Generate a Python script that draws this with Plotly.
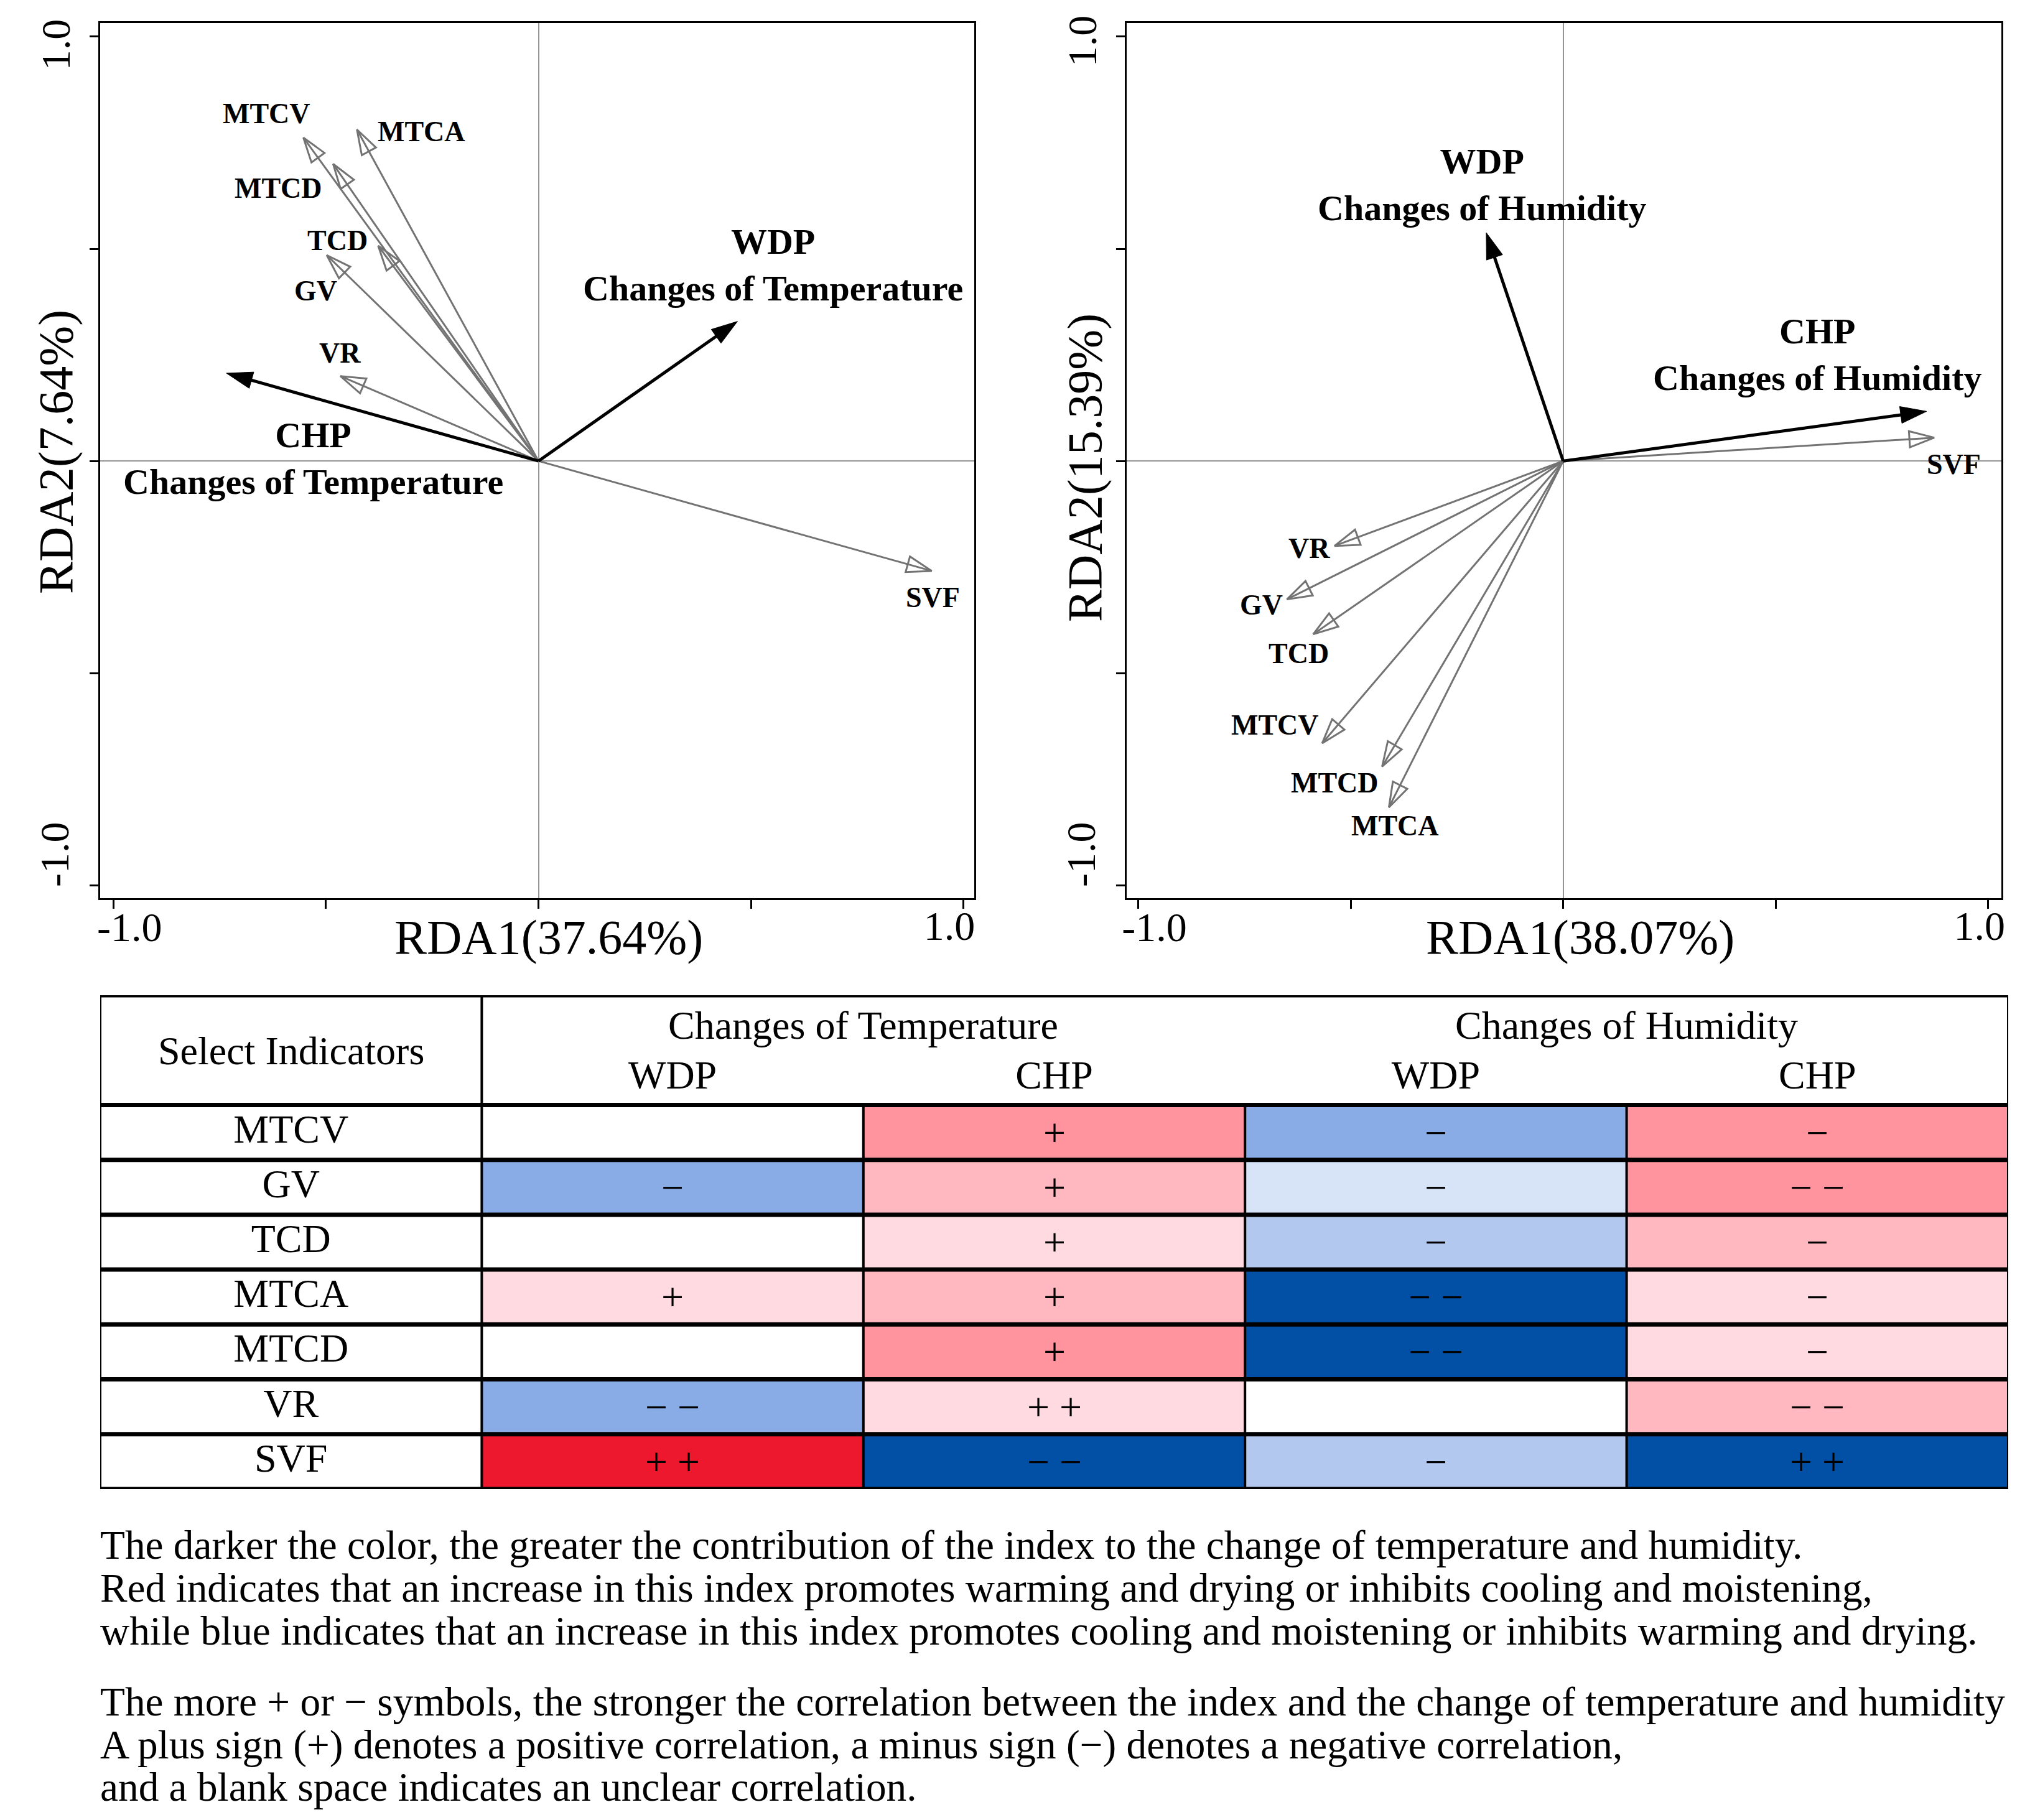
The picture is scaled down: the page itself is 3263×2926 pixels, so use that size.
import plotly.graph_objects as go

# ---------------- data ----------------
variables = ["MTCV", "MTCA", "MTCD", "TCD", "GV", "VR", "SVF"]
# RDA loadings, temperature panel
temp_x = [-0.553, -0.427, -0.483, -0.377, -0.498, -0.466, 0.925]
temp_y = [0.762, 0.781, 0.700, 0.507, 0.485, 0.200, -0.259]
responses = ["WDP", "CHP"]
temp_resp_x = [0.468, -0.734]
temp_resp_y = [0.329, 0.207]
# RDA loadings, humidity panel
hum_x = [-0.567, -0.410, -0.426, -0.588, -0.650, -0.538, 0.873]
hum_y = [-0.665, -0.816, -0.720, -0.408, -0.326, -0.200, 0.055]
hum_resp_x = [-0.181, 0.855]
hum_resp_y = [0.538, 0.117]

axis_titles_temp = ["RDA1(37.64%)", "RDA2(7.64%)"]
axis_titles_hum = ["RDA1(38.07%)", "RDA2(15.39%)"]
tick_vals = [-1.0, -0.5, 0.0, 0.5, 1.0]
low_tick_text = ["-1.0", "", "", "", ""]
high_tick_val = [1.0]
high_tick_text = ["1.0"]

# Table
table_rows = ["MTCV", "GV", "TCD", "MTCA", "MTCD", "VR", "SVF"]
table_groups = ["Changes of Temperature", "Changes of Humidity"]
table_cols = ["WDP", "CHP", "WDP", "CHP"]
# signed colour level: + red shades, - blue shades, 0 blank
temp_wdp_level = [0, -3, 0, 1, 0, -3, 4]
temp_chp_level = [3, 2, 1, 2, 3, 1, -4]
hum_wdp_level = [-3, -1, -2, -4, -4, 0, -2]
hum_chp_level = [3, 3, 2, 1, 1, 2, -4]
temp_wdp_sign = ["", "−", "", "+", "", "− −", "+ +"]
temp_chp_sign = ["+", "+", "+", "+", "+", "+ +", "− −"]
hum_wdp_sign = ["−", "−", "−", "− −", "− −", "", "−"]
hum_chp_sign = ["−", "− −", "−", "−", "−", "− −", "+ +"]

notes = [
    "The darker the color, the greater the contribution of the index to the change of temperature and humidity.",
    "Red indicates that an increase in this index promotes warming and drying or inhibits cooling and moistening,",
    "while blue indicates that an increase in this index promotes cooling and moistening or inhibits warming and drying.",
    "The more + or − symbols, the stronger the correlation between the index and the change of temperature and humidity",
    "A plus sign (+) denotes a positive correlation, a minus sign (−) denotes a negative correlation,",
    "and a blank space indicates an unclear correlation.",
]

# ---------------- styles ----------------
W, H = 3263, 2926
OFF = 8  # default page margin of the html body
SERIF = "Liberation Serif, Times New Roman, serif"
GREY = "#737373"

def px_x(p):
    return (p - OFF) / W

def px_y(p):
    return 1 - (p - OFF) / H

# label offsets in pixels (xshift, yshift)
temp_label_off = {"MTCV": (-59, 39), "MTCA": (104, -3), "MTCD": (-88, -39), "TCD": (-65, 9),
                  "GV": (-18, -57), "VR": (-1, 37), "SVF": (2, -43)}
temp_resp_off = {"WDP": (57, 91), "CHP": (140, -137)}
hum_label_off = {"MTCV": (-76, 29), "MTCA": (10, -30), "MTCD": (-76, -26), "TCD": (-23, -31),
                 "GV": (-41, -9), "VR": (-41, -4), "SVF": (31, -43)}
hum_resp_off = {"WDP": (-6, 77), "CHP": (-175, 91)}

fig = go.Figure()

def add_panel(xs, ys, rx, ry, xa, ya, xa_r, ya_r, loff, roff, group):
    for name, x, y in zip(variables, xs, ys):
        fig.add_trace(go.Scatter(
            x=[0, x], y=[0, y], xaxis=xa, yaxis=ya, mode="lines+markers",
            line=dict(color=GREY, width=3),
            marker=dict(symbol="arrow-open", size=[0, 42], opacity=[0, 1], angleref="previous",
                        color=GREY, line=dict(color=GREY, width=3)),
            hoverinfo="skip", showlegend=False))
        dx, dy = loff[name]
        fig.add_annotation(x=x, y=y, xref=xa, yref=ya, text="<b>%s</b>" % name, showarrow=False,
                           xshift=dx, yshift=dy, font=dict(family=SERIF, size=46, color="black"))
    # response arrows live on the overlaid axes (same ranges and domains)
    for name, x, y in zip(responses, rx, ry):
        fig.add_trace(go.Scatter(
            x=[0, x], y=[0, y], xaxis=xa_r, yaxis=ya_r, mode="lines+markers",
            line=dict(color="black", width=5),
            marker=dict(symbol="arrow", size=[0, 44], opacity=[0, 1], angleref="previous",
                        color="black", line=dict(color="black", width=1)),
            hoverinfo="skip", showlegend=False))
        dx, dy = roff[name]
        fig.add_annotation(x=x, y=y, xref=xa_r, yref=ya_r,
                           text="<b>%s<br>Changes of %s</b>" % (name, group), showarrow=False,
                           xshift=dx, yshift=dy, align="center",
                           font=dict(family=SERIF, size=58, color="black"))

add_panel(temp_x, temp_y, temp_resp_x, temp_resp_y, "x", "y", "x4", "y4",
          temp_label_off, temp_resp_off, "Temperature")
add_panel(hum_x, hum_y, hum_resp_x, hum_resp_y, "x2", "y2", "x5", "y5",
          hum_label_off, hum_resp_off, "Humidity")

TICKFONT = dict(family=SERIF, size=66, color="black")
rda_common = dict(showline=True, linecolor="black", linewidth=3, mirror=True,
                  ticks="outside", ticklen=14, tickwidth=2.5, tickcolor="black",
                  showgrid=False, zeroline=True, zerolinecolor="#959595", zerolinewidth=2,
                  tickvals=tick_vals, ticktext=low_tick_text, automargin=False,
                  tickfont=TICKFONT, fixedrange=True)
label_axis = dict(showline=False, showgrid=False, zeroline=False, ticks="outside", ticklen=14,
                  tickcolor="rgba(0,0,0,0)", tickvals=high_tick_val, ticktext=high_tick_text,
                  automargin=False, tickfont=TICKFONT, fixedrange=True)

y_dom = [px_y(1444), px_y(37)]
xd1 = [px_x(161), px_x(1566)]
xd2 = [px_x(1811), px_x(3217)]
xr1 = [-1.031, 1.025]
xr2 = [-1.027, 1.031]
yr = [-1.030, 1.032]

# axis titles as annotations
for title_x, title_y, cx, cy in [
        (axis_titles_temp[0], axis_titles_temp[1], (882, 1506), (90, 727)),
        (axis_titles_hum[0], axis_titles_hum[1], (2540, 1506), (1743, 752))]:
    fig.add_annotation(x=px_x(cx[0]), y=px_y(cx[1]), xref="paper", yref="paper", text=title_x,
                       xanchor="center", yanchor="middle",
                       showarrow=False, font=dict(family=SERIF, size=78, color="black"))
    fig.add_annotation(x=px_x(cy[0]), y=px_y(cy[1]), xref="paper", yref="paper", text=title_y,
                       xanchor="center", yanchor="middle",
                       showarrow=False, textangle=-90, font=dict(family=SERIF, size=78, color="black"))

# ---------------- table ----------------
levels = [list(r) for r in zip(temp_wdp_level, temp_chp_level, hum_wdp_level, hum_chp_level)]
signs = [list(r) for r in zip(temp_wdp_sign, temp_chp_sign, hum_wdp_sign, hum_chp_sign)]
level_colors = ["#0250A6", "#8AACE6", "#B3C8EE", "#D7E3F7", "#FFFFFF",
                "#FFDBE1", "#FFB7C0", "#FF939E", "#EE182E"]
cscale = []
for i, c in enumerate(level_colors):
    cscale.append([i / 9, c])
    cscale.append([(i + 1) / 9, c])

row_idx = list(range(len(table_rows)))
col_idx = [1, 2, 3, 4]

fig.add_trace(go.Heatmap(
    z=levels, x=col_idx, y=row_idx, text=signs, texttemplate="%{text}",
    textfont=dict(family=SERIF, size=64, color="black"),
    colorscale=cscale, zmin=-4.5, zmax=4.5, showscale=False,
    xaxis="x3", yaxis="y3", hoverinfo="skip"))

fig.add_trace(go.Scatter(
    x=[0] * len(table_rows), y=row_idx, text=table_rows, mode="text",
    textfont=dict(family=SERIF, size=64, color="black"),
    xaxis="x3", yaxis="y3", hoverinfo="skip", showlegend=False))
fig.add_trace(go.Scatter(
    x=col_idx, y=[-0.98] * 4, text=table_cols, mode="text",
    textfont=dict(family=SERIF, size=64, color="black"),
    xaxis="x3", yaxis="y3", hoverinfo="skip", showlegend=False))
for gx, g in zip([1.5, 3.5], table_groups):
    fig.add_annotation(x=gx, y=-1.95, xref="x3", yref="y3", text=g, showarrow=False,
                       font=dict(family=SERIF, size=64, color="black"))
fig.add_annotation(x=0, y=-1.48, xref="x3", yref="y3", text="Select Indicators", showarrow=False,
                   font=dict(family=SERIF, size=64, color="black"))

shapes = []
for yv in [-2.5, -0.5] + [i + 0.5 for i in row_idx]:
    shapes.append(dict(type="line", xref="x3", yref="y3", x0=-0.5, x1=4.5, y0=yv, y1=yv,
                       line=dict(color="black", width=7), layer="above"))
for xv in [-0.5, 0.5, 4.5]:
    shapes.append(dict(type="line", xref="x3", yref="y3", x0=xv, x1=xv, y0=-2.5, y1=6.5,
                       line=dict(color="black", width=4), layer="above"))
for xv in [1.5, 2.5, 3.5]:
    shapes.append(dict(type="line", xref="x3", yref="y3", x0=xv, x1=xv, y0=-0.5, y1=6.5,
                       line=dict(color="black", width=4), layer="above"))

# notes
note_y = [2484, 2553, 2622, 2736, 2805, 2873]
for t, yy in zip(notes, note_y):
    fig.add_annotation(x=px_x(159), y=px_y(yy), xref="paper", yref="paper", text=t,
                       showarrow=False, xanchor="left", yanchor="middle",
                       font=dict(family=SERIF, size=65.3, color="black"))

fig.update_layout(
    width=W, height=H, margin=dict(l=0, r=0, t=0, b=0, autoexpand=False),
    paper_bgcolor="white", plot_bgcolor="white", showlegend=False,
    xaxis=dict(domain=xd1, range=xr1, anchor="y",
               ticklabelshift=26, ticklabelstandoff=-27, **rda_common),
    yaxis=dict(domain=y_dom, range=yr, anchor="x", tickangle=-90,
               ticklabelshift=-40, ticklabelstandoff=8, **rda_common),
    xaxis2=dict(domain=xd2, range=xr2, anchor="y2",
                ticklabelshift=26, ticklabelstandoff=-27, **rda_common),
    yaxis2=dict(domain=y_dom, range=yr, anchor="x2", tickangle=-90,
                ticklabelshift=-40, ticklabelstandoff=8, **rda_common),
    xaxis4=dict(overlaying="x", anchor="y4", side="bottom", range=xr1,
                ticklabelshift=-23, ticklabelstandoff=-27, **label_axis),
    yaxis4=dict(overlaying="y", anchor="x4", side="left", range=yr, tickangle=-90,
                ticklabelshift=23, ticklabelstandoff=8, **label_axis),
    xaxis5=dict(overlaying="x2", anchor="y5", side="bottom", range=xr2,
                ticklabelshift=-14, ticklabelstandoff=-27, **label_axis),
    yaxis5=dict(overlaying="y2", anchor="x5", side="left", range=yr, tickangle=-90,
                ticklabelshift=17, ticklabelstandoff=8, **label_axis),
    xaxis3=dict(domain=[px_x(161), px_x(3228)], range=[-0.5, 4.5], anchor="y3", visible=False,
                fixedrange=True, automargin=False),
    yaxis3=dict(domain=[px_y(2394), px_y(1600)], range=[6.5, -2.5], anchor="x3", visible=False,
                fixedrange=True, automargin=False),
    shapes=shapes,
)

fig.write_html("out.html")
